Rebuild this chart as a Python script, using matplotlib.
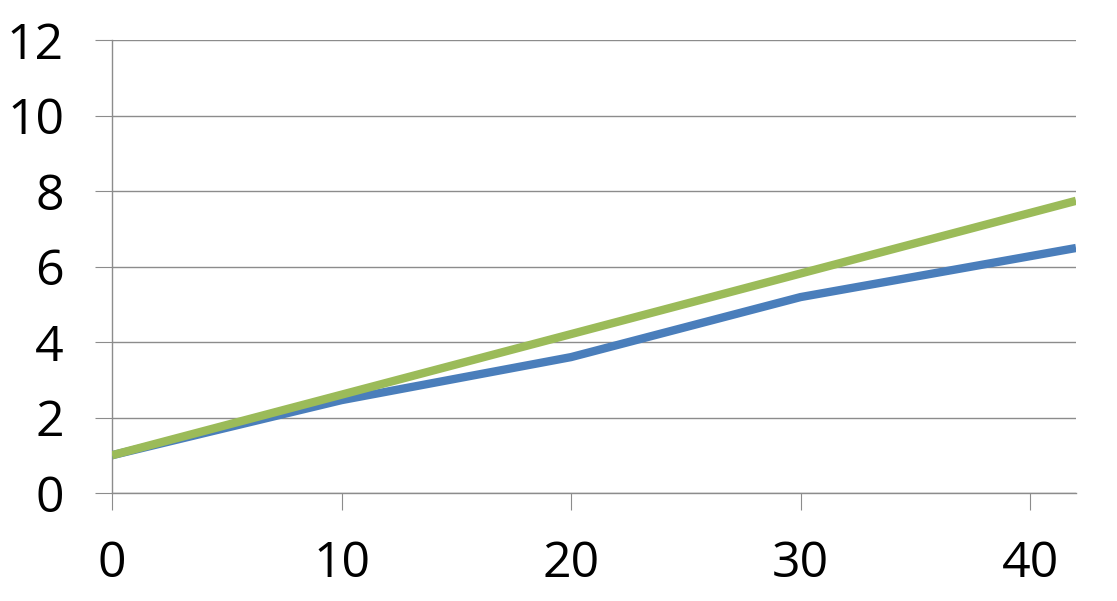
import matplotlib
matplotlib.use("Agg")
import matplotlib.pyplot as plt

x_blue = [0, 10, 20, 30, 42]
y_blue = [1.0, 2.46, 3.60, 5.19, 6.49]
x_green = [0, 42]
y_green = [1.0, 7.74]
x_ticks = [0, 10, 20, 30, 40]
y_ticks = [0, 2, 4, 6, 8, 10, 12]

plt.rcParams['font.family'] = ['Open Sans', 'DejaVu Sans']

fig = plt.figure(figsize=(11.17, 6.01), dpi=100)
ax = fig.add_axes([112/1117, 1 - 493/601, (1076 - 112)/1117, (493 - 40)/601])

grid_c = '#8c8c8c'
ax.plot(x_blue, y_blue, color='#4A7EBB', lw=6, solid_capstyle='butt', solid_joinstyle='round', zorder=3)
ax.plot(x_green, y_green, color='#9BBB59', lw=6, solid_capstyle='butt', zorder=4)

ax.set_xlim(0, 42)
ax.set_ylim(0, 12)
ax.set_xticks(x_ticks)
ax.set_yticks(y_ticks)
ax.set_xticklabels([str(v) for v in x_ticks])
ax.set_yticklabels([str(v) for v in y_ticks])

ax.grid(axis='y', color=grid_c, lw=1)
ax.set_axisbelow(True)
for s in ['top', 'right']:
    ax.spines[s].set_visible(False)
for s in ['left', 'bottom']:
    ax.spines[s].set_color(grid_c)
    ax.spines[s].set_linewidth(1)

ax.tick_params(axis='both', direction='out', length=12.5, width=0.8, color=grid_c,
               labelsize=36, labelcolor='black')
ax.tick_params(axis='y', pad=22)
ax.tick_params(axis='x', pad=21)

fig.savefig('out.png', dpi=100, facecolor='white')
